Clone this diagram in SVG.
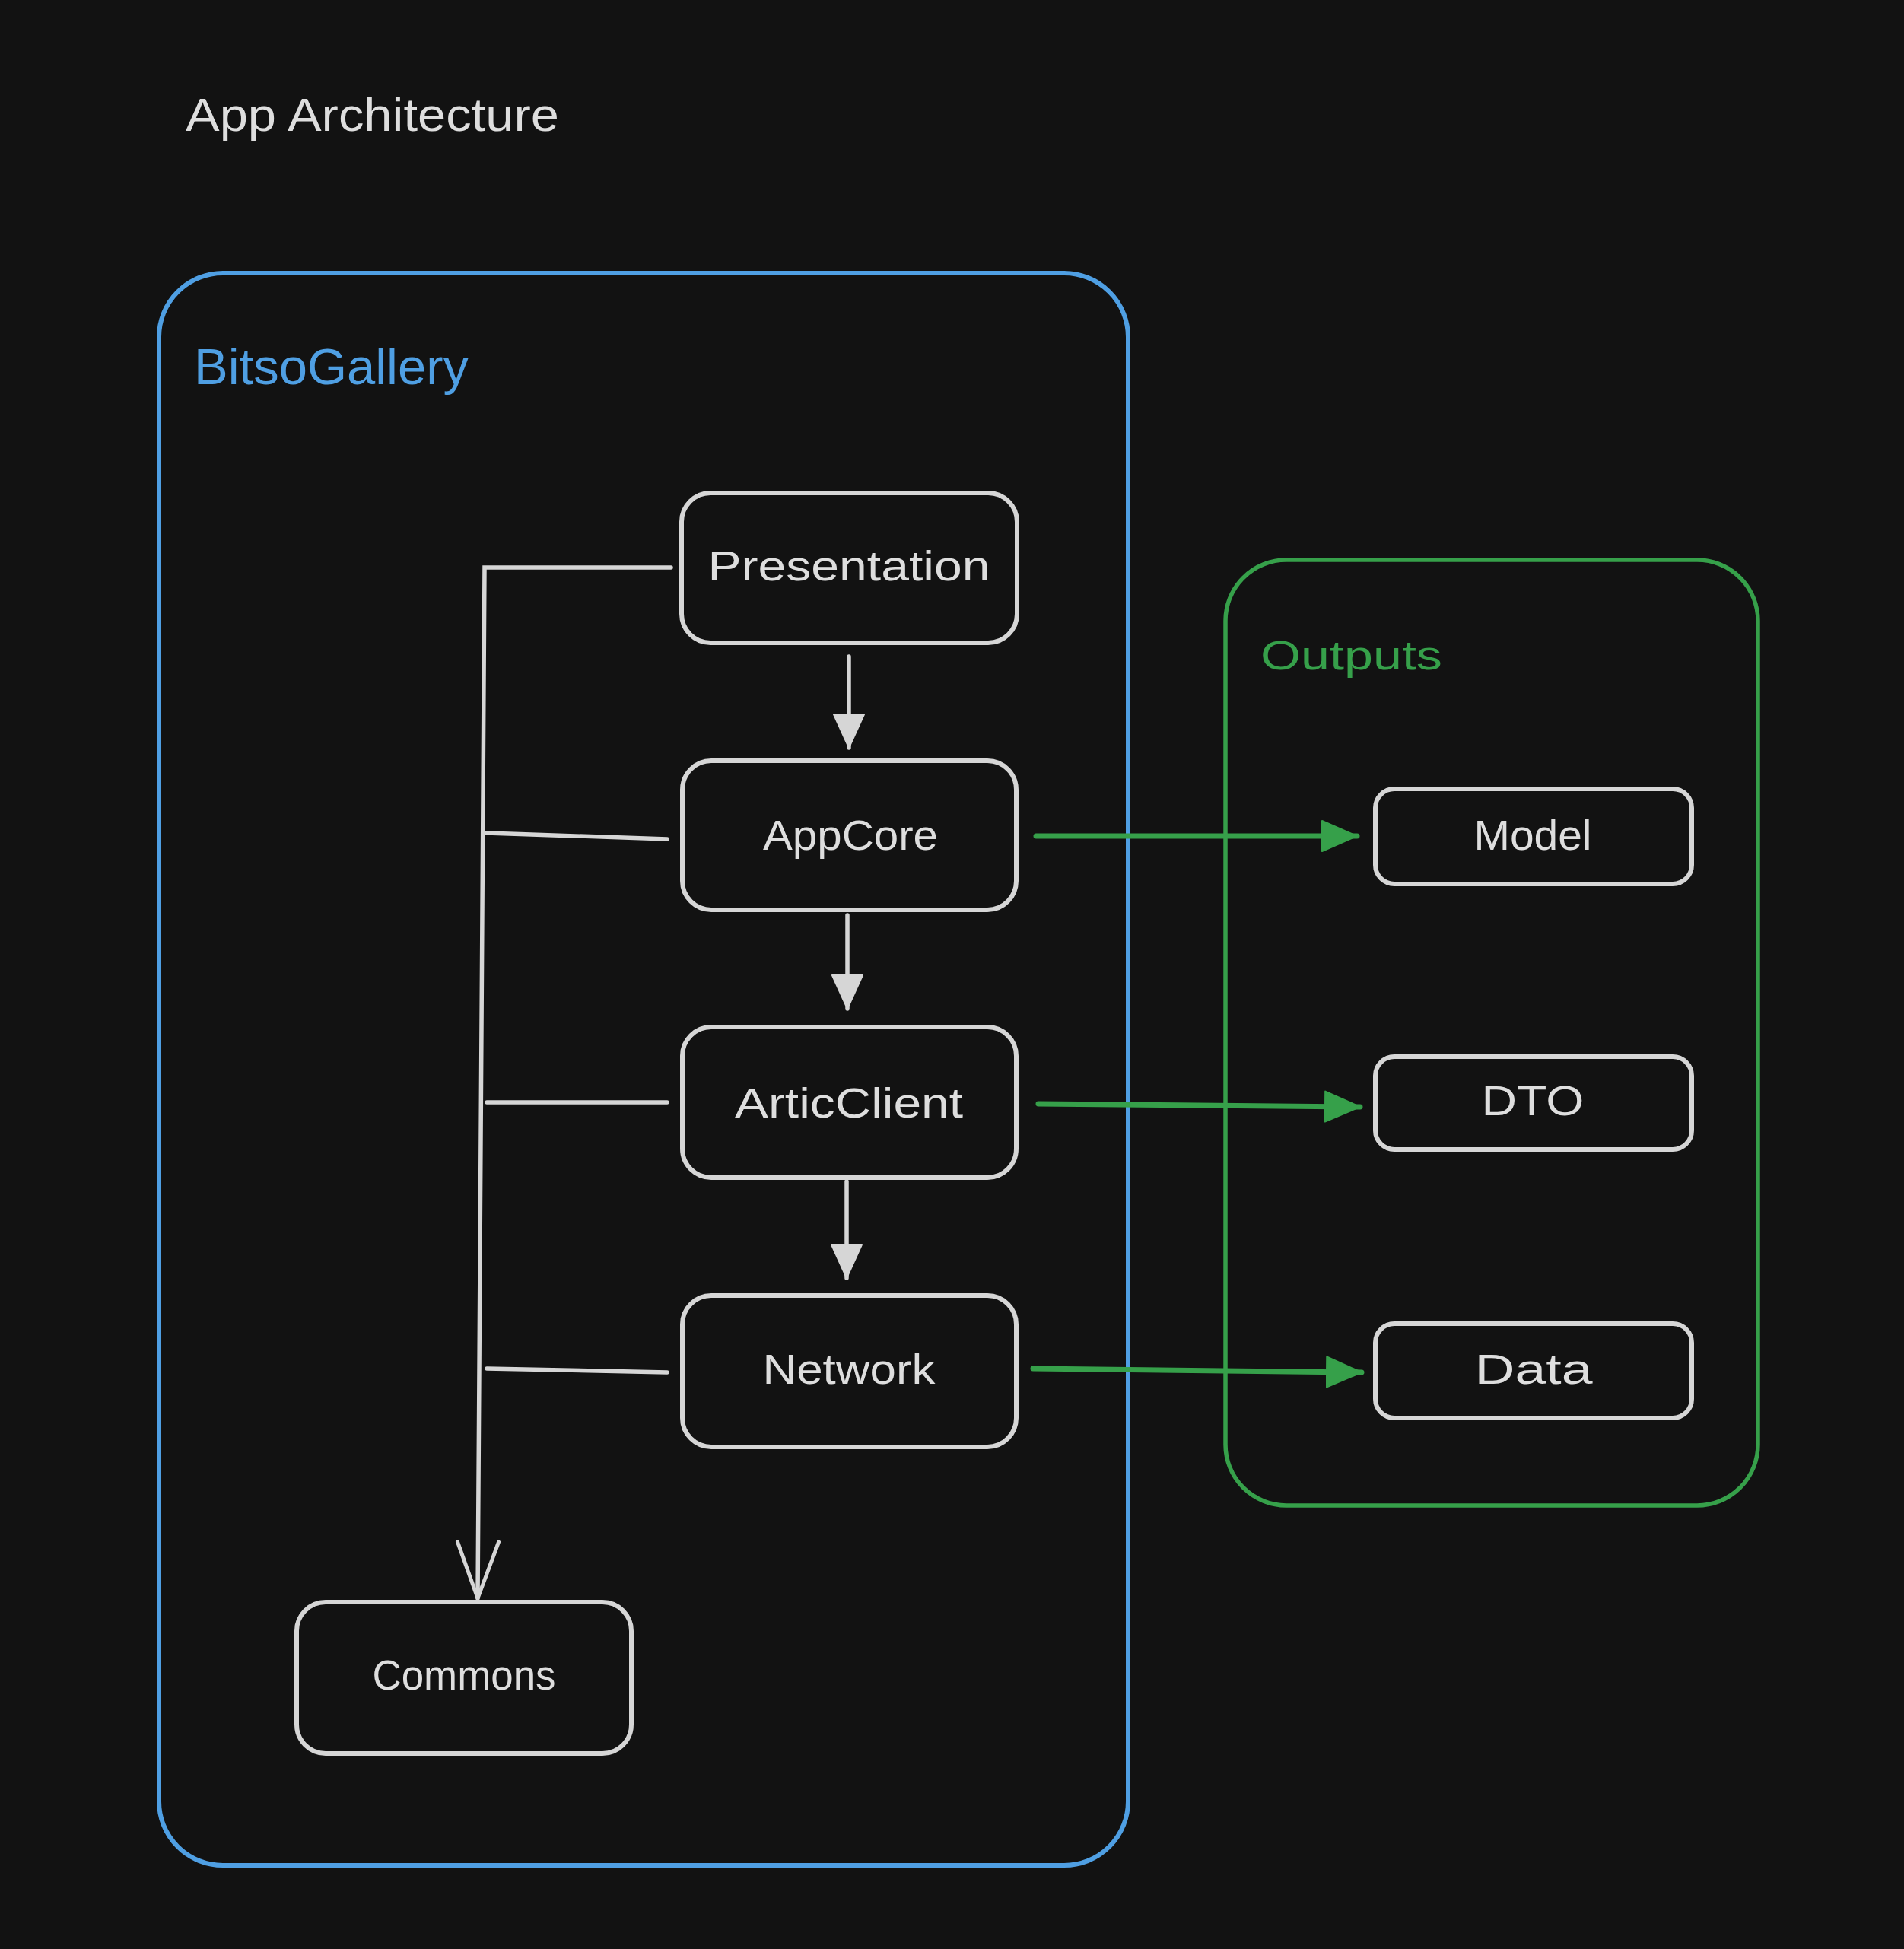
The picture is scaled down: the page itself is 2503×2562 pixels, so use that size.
<svg xmlns="http://www.w3.org/2000/svg" width="2503" height="2562" viewBox="0 0 2503 2562">
<style>
.bg{fill:#121212}
.node rect{fill:#121212;stroke:#d6d6d6;stroke-width:6}
.lbl{font-family:"Liberation Sans","DejaVu Sans",sans-serif;fill:#dedede;font-size:56px;text-anchor:middle}
.conn{fill:none;stroke:#d6d6d6;stroke-width:5.5;stroke-linecap:round}
.gconn{fill:none;stroke:#36a04a;stroke-width:7;stroke-linecap:round}
</style>
<defs>
<marker id="tri" markerUnits="userSpaceOnUse" viewBox="0 0 46 42" refX="45" refY="21" markerWidth="46" markerHeight="42" orient="auto">
<path d="M1,1 L45,21 L1,41 Z" fill="#d6d6d6" stroke="#d6d6d6" stroke-width="2" stroke-linejoin="round"/>
</marker>
<marker id="gtri" markerUnits="userSpaceOnUse" viewBox="0 0 48 44" refX="47" refY="22" markerWidth="48" markerHeight="44" orient="auto">
<path d="M1,2 L47,22 L1,42 Z" fill="#36a04a" stroke="#36a04a" stroke-width="2" stroke-linejoin="round"/>
</marker>
<marker id="open" markerUnits="userSpaceOnUse" viewBox="0 0 80 60" refX="76" refY="30" markerWidth="80" markerHeight="60" orient="auto">
<path d="M2,3 L76,30 L2,57" fill="none" stroke="#d6d6d6" stroke-width="5" stroke-linecap="round" stroke-linejoin="round"/>
</marker>
</defs>
<rect class="bg" x="0" y="0" width="2503" height="2562"/>

<g id="title">
<text x="244" y="172" font-family="'Liberation Sans','DejaVu Sans',sans-serif" font-size="61" fill="#dedede" textLength="491" lengthAdjust="spacingAndGlyphs">App Architecture</text>
</g>

<g id="bitsogallery">
<rect x="209" y="359" width="1274" height="2093" rx="84" ry="84" fill="none" stroke="#4f9fe3" stroke-width="6"/>
<text x="255" y="505" font-family="'Liberation Sans','DejaVu Sans',sans-serif" font-size="66" fill="#4f9fe3" textLength="361" lengthAdjust="spacingAndGlyphs">BitsoGallery</text>
</g>

<g id="outputs">
<rect x="1611" y="736" width="700" height="1243" rx="80" ry="80" fill="none" stroke="#36a04a" stroke-width="5.5"/>
<text x="1657" y="880" font-family="'Liberation Sans','DejaVu Sans',sans-serif" font-size="54" fill="#36a04a" textLength="239" lengthAdjust="spacingAndGlyphs">Outputs</text>
</g>

<g id="connectors">
<polyline class="conn" points="882,746 637,746 628,2101" marker-end="url(#open)"/>
<line class="conn" x1="640" y1="1095" x2="877" y2="1103"/>
<line class="conn" x1="640" y1="1449" x2="877" y2="1449"/>
<line class="conn" x1="640" y1="1799" x2="877" y2="1804"/>
<line class="conn" x1="1116" y1="863" x2="1116" y2="983" marker-end="url(#tri)"/>
<line class="conn" x1="1114" y1="1203" x2="1114" y2="1326" marker-end="url(#tri)"/>
<line class="conn" x1="1113" y1="1553" x2="1113" y2="1680" marker-end="url(#tri)"/>
<line class="gconn" x1="1362" y1="1099" x2="1784" y2="1099" marker-end="url(#gtri)"/>
<line class="gconn" x1="1365" y1="1451" x2="1788" y2="1455" marker-end="url(#gtri)"/>
<line class="gconn" x1="1358" y1="1799" x2="1790" y2="1804" marker-end="url(#gtri)"/>
</g>

<g id="presentation" class="node">
<rect x="896" y="648" width="441" height="197" rx="38" ry="38"/>
<text class="lbl" x="1116" y="763" textLength="371" lengthAdjust="spacingAndGlyphs">Presentation</text>
</g>
<g id="appcore" class="node">
<rect x="897" y="1000" width="439" height="196" rx="38" ry="38"/>
<text class="lbl" x="1118" y="1117" textLength="230" lengthAdjust="spacingAndGlyphs">AppCore</text>
</g>
<g id="articclient" class="node">
<rect x="897" y="1350" width="439" height="198" rx="38" ry="38"/>
<text class="lbl" x="1116" y="1469" textLength="300" lengthAdjust="spacingAndGlyphs">ArticClient</text>
</g>
<g id="network" class="node">
<rect x="897" y="1703" width="439" height="199" rx="38" ry="38"/>
<text class="lbl" x="1116" y="1819" textLength="227" lengthAdjust="spacingAndGlyphs">Network</text>
</g>
<g id="model" class="node">
<rect x="1808" y="1037" width="416" height="125" rx="25" ry="25"/>
<text class="lbl" x="2015" y="1117" textLength="155" lengthAdjust="spacingAndGlyphs">Model</text>
</g>
<g id="dto" class="node">
<rect x="1808" y="1389" width="416" height="122" rx="25" ry="25"/>
<text class="lbl" x="2015" y="1466" textLength="135" lengthAdjust="spacingAndGlyphs">DTO</text>
</g>
<g id="data" class="node">
<rect x="1808" y="1740" width="416" height="124" rx="25" ry="25"/>
<text class="lbl" x="2016" y="1819" textLength="155" lengthAdjust="spacingAndGlyphs">Data</text>
</g>
<g id="commons" class="node">
<rect x="390" y="2106" width="440" height="199" rx="38" ry="38"/>
<text class="lbl" x="610" y="2221" textLength="241" lengthAdjust="spacingAndGlyphs">Commons</text>
</g>
</svg>
